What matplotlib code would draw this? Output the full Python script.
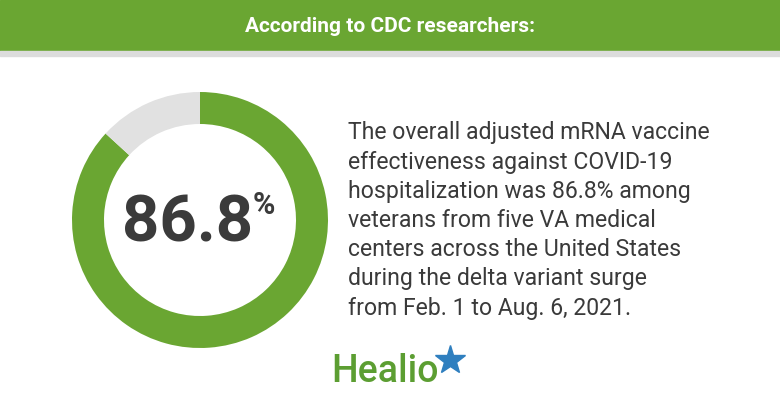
import matplotlib
matplotlib.use("Agg")
import matplotlib.pyplot as plt
from matplotlib.patches import Rectangle

header = "According to CDC researchers:"
values = [86.8, 13.2]
big_label = "86.8"
body_lines = ["The overall adjusted mRNA vaccine",
              "effectiveness against COVID-19",
              "hospitalization was 86.8% among",
              "veterans from five VA medical",
              "centers across the United States",
              "during the delta variant surge",
              "from Feb. 1 to Aug. 6, 2021."]

fig = plt.figure(figsize=(7.8, 4.05), dpi=100)
ax = fig.add_axes([0, 0, 1, 1])
ax.set_xlim(0, 780); ax.set_ylim(405, 0); ax.axis("off")
green = "#6aa632"
ax.add_patch(Rectangle((0, 0), 780, 50, color=green))
ax.add_patch(Rectangle((0, 51), 780, 5, color="#dcdcdc"))
ax.text(390, 27, header, color="white", fontsize=15, fontweight="bold",
        family="Roboto", ha="center", va="center")

# donut
dax = fig.add_axes([(200-128)/780, 1-(220+128)/405, 256/780, 256/405])
dax.pie(values, colors=[green, "#e1e1e1"], startangle=90, counterclock=False,
        wedgeprops=dict(width=0.25, edgecolor="none"))
dax.set_xlim(-1, 1); dax.set_ylim(-1, 1)
dax.set_aspect("equal")
dax.text(-0.1, -0.03, big_label, fontsize=47, fontweight="bold", color="#3b3b3b",
         family="Roboto", ha="center", va="center")
dax.text(0.5, 0.12, "%", fontsize=22, fontweight="bold", color="#3b3b3b",
         family="Roboto", ha="center", va="center")

y0 = 133
for i, line in enumerate(body_lines):
    ax.text(348, y0 + i * 29.2, line, fontsize=16.6, color="#3a3a3a",
            family="Roboto", ha="left", va="center")

ax.text(331, 372, "Healio", fontsize=27, color="#5c9e32", family="Roboto",
        fontweight="medium", ha="left", va="center")
ax.plot([450], [360], marker="*", markersize=22, color="#2f7fbf")

fig.savefig("out.png", dpi=100)
